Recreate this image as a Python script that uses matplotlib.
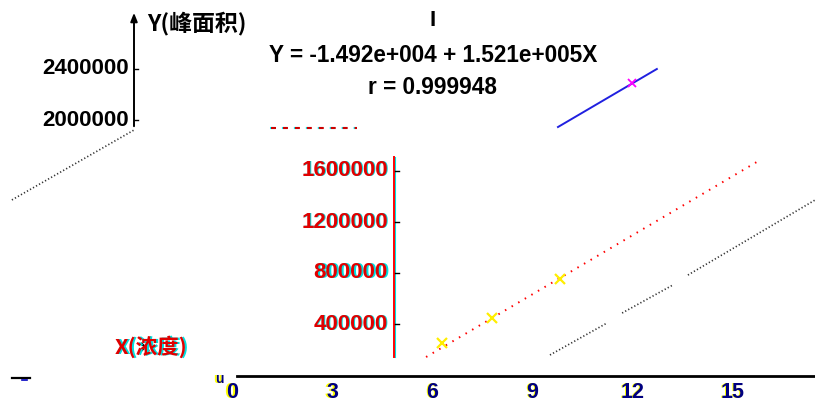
import matplotlib
matplotlib.use('Agg')
import matplotlib.pyplot as plt
from matplotlib.transforms import offset_copy

plt.rcParams['lines.scale_dashes'] = False

# ---------------- data ----------------
x_ticks = [0, 3, 6, 9, 12, 15]
red_y_ticks = [400000, 800000, 1200000, 1600000]
black_y_ticks = [2000000, 2400000]

std_x = [6.29, 7.78, 9.82]                 # yellow standards
std_y = [251000, 447000, 753000]
fit_x = [5.81, 15.81]                      # red dotted regression line
fit_y = [141000, 1686000]
ghost_x = [[9.52, 11.23], [11.68, 13.20], [13.65, 17.46]]   # black dotted pieces
ghost_y = [[157000, 408000], [486000, 706000], [784000, 1373000]]
wrap_x = [-6.59, -2.93]                    # black dotted piece at upper left
wrap_y = [1373000, 1922000]
blue_x = [9.76, 12.72]                     # blue line
blue_y = [1945000, 2400000]
sample_x = [11.98]                         # magenta sample
sample_y = [2290000]
dash_x = [1.17, 3.74]                      # red dashed segment
dash_y = [1937000, 1937000]
stray_x = [-2.60]                          # black cross over the X label
stray_y = [220000]

title_text = "I"
equation = "Y = -1.492e+004 + 1.521e+005X"
r_text = "r = 0.999948"
y_label = "Y(峰面积)"
x_label = "X(浓度)"

# ---------------- layout ----------------
W, H = 815, 405
X0_PX, PX_PER_X = 232.0, 33.4
Y0_PX, PX_PER_Y = 375.0, 127.5e-6


def d(px, py):
    """pixel (from top-left) -> data coordinates"""
    return (px - X0_PX) / PX_PER_X, (Y0_PX - py) / PX_PER_Y


fig = plt.figure(figsize=(W / 100, H / 100), dpi=100)
ax = fig.add_axes([0, 0, 1, 1])
ax.set_xlim(d(0, 0)[0], d(W, 0)[0])
ax.set_ylim(d(0, H)[1], d(0, 0)[1])
ax.axis('off')

FONT = ['Liberation Sans', 'DejaVu Sans']
CJK = ['Noto Sans CJK SC', 'DejaVu Sans']


def off(dx, dy):
    return offset_copy(ax.transData, fig=fig, x=dx, y=dy, units='dots')


def stext(x, y, s, color, shadow=None, sdx=1, sdy=0, **kw):
    if shadow:
        ax.text(x, y, s, color=shadow, transform=off(sdx, sdy), **kw)
    ax.text(x, y, s, color=color, **kw)


# ---- black upper y axis ----
ax_x_black = d(134, 0)[0]
ax.annotate('', xy=(ax_x_black, d(0, 10)[1]), xytext=(ax_x_black, d(0, 129)[1]),
            arrowprops=dict(arrowstyle='-|>,head_width=0.2,head_length=0.5', color='black', lw=1.4))
for v in black_y_ticks:
    ax.plot([ax_x_black, d(138, 0)[0]], [v, v], color='black', lw=1)
    ax.text(d(129, 0)[0], v, f"{v}", ha='right', va='center', fontsize=16,
            fontweight='bold', family=FONT, color='black')
ax.text(*d(147, 23), y_label, ha='left', va='center', fontsize=16.5,
        fontweight='bold', family=CJK, color='black')

# ---- red y axis ----
ax_x_red = d(393.5, 0)[0]
ax.plot([ax_x_red, ax_x_red], [d(0, 157)[1], d(0, 357)[1]], color='#00e0e0', lw=0.8,
        transform=off(1.6, 0))
ax.plot([ax_x_red, ax_x_red], [d(0, 157)[1], d(0, 357)[1]], color='red', lw=1.4)
for v in red_y_ticks:
    ax.plot([d(395, 0)[0], d(399, 0)[0]], [v, v], color='black', lw=1)
    stext(d(388, 0)[0], v, f"{v}", '#e00000', '#00e0e0', 1, 0, ha='right', va='center',
          fontsize=16, fontweight='bold', family=FONT)

# ---- bottom x axis ----
y_bottom = d(0, 376)[1]
ax.plot([d(237, 0)[0], d(W, 0)[0]], [y_bottom, y_bottom], color='black', lw=2)
for t in x_ticks:
    stext(t, d(0, 392)[1], f"{t}", '#000080', '#ffff00', -1.5, -0.5, ha='center',
          va='center', fontsize=15.5, fontweight='bold', family=FONT)
stext(*d(219, 379), "u", '#000080', '#ffff00', -1.5, 0, ha='center', va='center',
      fontsize=10, fontweight='bold', family=FONT)
ax.plot([d(12, 0)[0], d(30, 0)[0]], [d(0, 378)[1]] * 2, color='black', lw=1.6)
ax.plot([d(22, 0)[0], d(27, 0)[0]], [d(0, 380)[1]] * 2, color='#0000c0', lw=1.2)

stext(*d(115, 347), x_label, '#e00000', '#00e0e0', 1.5, 0, ha='left', va='center',
      fontsize=15.5, fontweight='bold', family=CJK)
ax.plot(stray_x, stray_y, 'x', color='black', ms=6, mew=1.6)

# ---- titles ----
ax.text(*d(433, 21), title_text, ha='center', va='center', fontsize=16,
        fontweight='bold', family=FONT, color='black')
ax.text(*d(433, 55), equation, ha='center', va='center', fontsize=16.3,
        fontweight='bold', family=FONT, color='black')
ax.text(*d(432, 88), r_text, ha='center', va='center', fontsize=16.3,
        fontweight='bold', family=FONT, color='black')

# ---- lines and markers ----
ax.plot(dash_x, dash_y, color='cyan', lw=1.5, dashes=(3.6, 5.0), transform=off(-1.5, 0))
ax.plot(dash_x, dash_y, color='#cc0000', lw=1.5, dashes=(3.6, 5.0))

ax.plot(fit_x, fit_y, color='red', lw=1.4, dashes=(1.1, 4.4))
for gx, gy in zip(ghost_x, ghost_y):
    ax.plot(gx, gy, color='#333333', lw=1.2, dashes=(0.9, 1.6))
ax.plot(wrap_x, wrap_y, color='#333333', lw=1.2, dashes=(0.9, 1.6))

ax.plot(std_x, std_y, 'x', color='#ffee00', ms=7, mew=1.6)
ax.plot(blue_x, blue_y, color='#2020e0', lw=1.4)
ax.plot(sample_x, sample_y, 'x', color='#ff00ff', ms=6, mew=1.3)

fig.savefig('out.png', dpi=100, facecolor='white')
